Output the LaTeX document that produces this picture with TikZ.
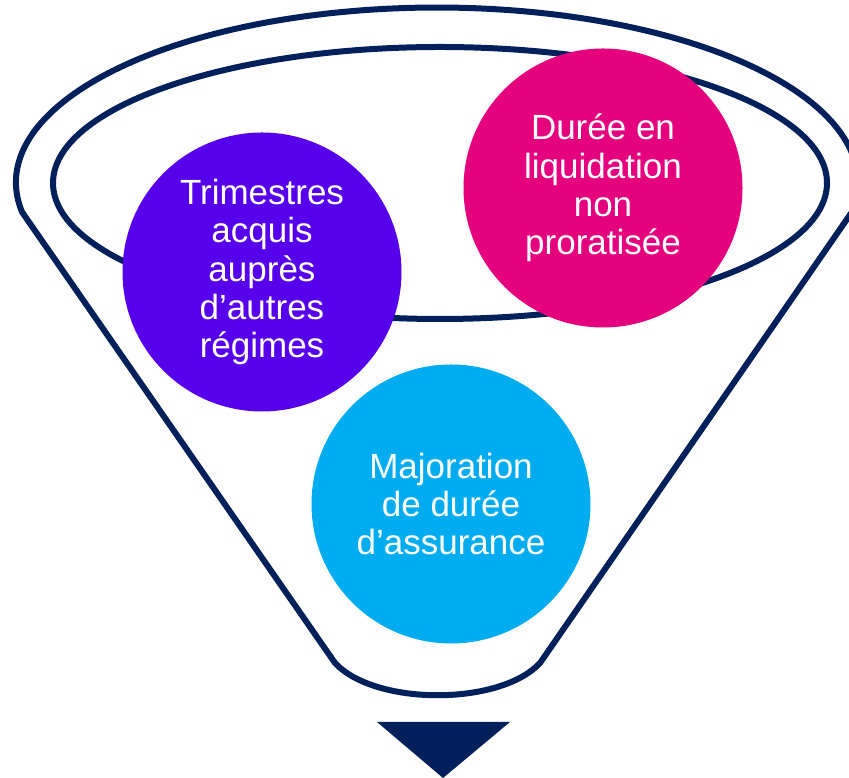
\documentclass[tikz,border=0pt]{standalone}
\usepackage{fontspec}
\setmainfont{Liberation Sans}
\definecolor{navy}{RGB}{0,32,91}
\definecolor{violetb}{RGB}{86,0,236}
\definecolor{magentab}{RGB}{229,0,126}
\definecolor{cyanb}{RGB}{0,172,240}
\tikzstyle{bubble} = [circle, minimum size=279pt, inner sep=0pt, text=white, align=center,
	font=\fontsize{35}{38.3}\selectfont]
\tikzstyle{rim} = [draw=navy, line width=6pt, line join=round]

\begin{document}
\begin{tikzpicture}[x=1pt, y=1pt]
		\useasboundingbox (0,0) rectangle (849,778);
		% funnel
		\draw[rim] (22,566) arc[start angle=189.7, end angle=-9.7, x radius=421, y radius=175]
			-- (540,115) .. controls (500,72) and (375,72) .. (335,115) -- cycle;
		\draw[rim] (440,595) ellipse[x radius=387, y radius=136];
		
		\node[bubble, fill=violetb] (trim) at (262,506) {Trimestres\\acquis\\auprès\\d’autres\\régimes};
		\node[bubble, fill=magentab] (duree) at (603,590) {Durée en\\liquidation\\non\\proratisée};
		\node[bubble, fill=cyanb] (major) at (451,274) {Majoration\\de durée\\d’assurance};
		
		% output
		\fill[navy] (377,56) -- (510,56) -- (443,0) -- cycle;
	\end{tikzpicture}
\end{document}
